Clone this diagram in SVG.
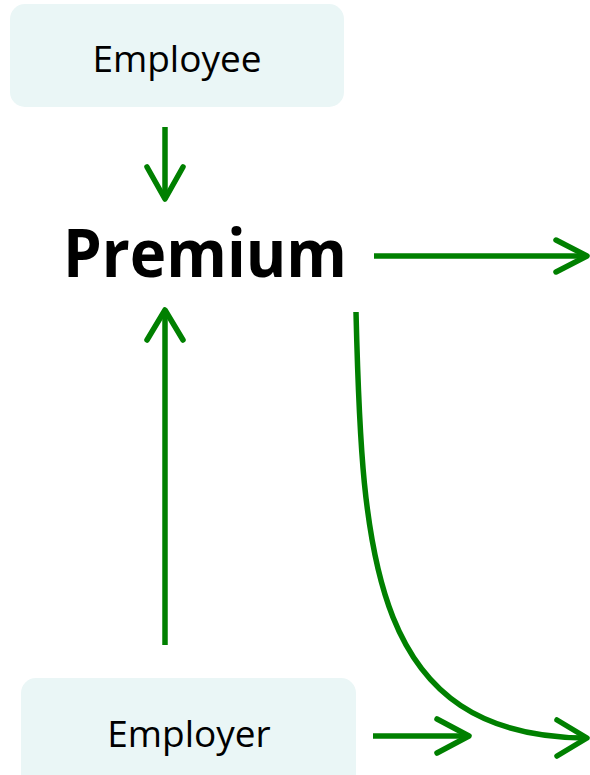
<svg xmlns="http://www.w3.org/2000/svg" width="590" height="775" viewBox="0 0 590 775">
<style>
.box{fill:#eaf6f6;}
.lbl{font-family:"Open Sans","Noto Sans",sans-serif;font-size:37px;fill:#000;text-anchor:middle;}
.big{font-family:"Open Sans","Noto Sans",sans-serif;font-size:66px;font-weight:bold;fill:#000;}
.c{fill:none;stroke:#008000;stroke-width:5.5;stroke-linecap:round;stroke-linejoin:round;}
.l{fill:none;stroke:#008000;stroke-width:5.5;stroke-linecap:butt;}
</style>
<rect width="590" height="775" fill="#fff"/>
<g id="employee">
<rect class="box" x="10" y="4" width="334" height="103" rx="15"/>
<text class="lbl" x="177" y="72">Employee</text>
</g>
<g id="premium">
<text class="big" x="63" y="277" textLength="284" lengthAdjust="spacingAndGlyphs">Premium</text>
</g>
<g id="employer">
<rect class="box" x="21" y="678" width="335" height="110" rx="15"/>
<text class="lbl" x="189" y="747">Employer</text>
</g>
<g id="connectors">
<line class="l" x1="165" y1="127" x2="165" y2="199"/>
<polyline class="c" points="147,167 165,199 183,167"/>
<line class="l" x1="165" y1="645" x2="165" y2="311"/>
<polyline class="c" points="147,340 165,310 183,340"/>
<line class="l" x1="374" y1="256" x2="586" y2="256"/>
<polyline class="c" points="556,240 587,256 556,272"/>
<line class="l" x1="373" y1="736" x2="468" y2="736"/>
<polyline class="c" points="437,719 469,736 437,753"/>
<path class="l" d="M356,312 C362,560 372,736 586,738"/>
<polyline class="c" points="557,720 587,738 557,756"/>
</g>
</svg>
